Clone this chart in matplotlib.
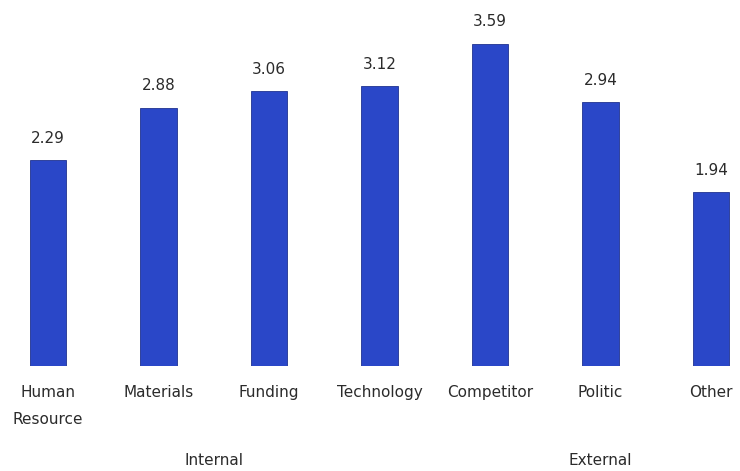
import matplotlib
matplotlib.use("Agg")
from matplotlib import pyplot as plt

categories = ["Human\nResource", "Materials", "Funding", "Technology", "Competitor", "Politic", "Other"]
values = [2.29, 2.88, 3.06, 3.12, 3.59, 2.94, 1.94]
groups = ["Internal", "External"]
group_members = [[0, 1, 2, 3], [4, 5, 6]]

fig = plt.figure(figsize=(7.4, 4.71), dpi=100)
ax = fig.add_axes([0, 0.223, 1, 0.762])

x = list(range(len(categories)))
ax.bar(x, values, width=0.33, color="#2a47c8", edgecolor="#1f3290", linewidth=0.6)

for xi, v in zip(x, values):
	ax.text(xi, v + 0.16, f"{v:.2f}", ha="center", va="bottom", fontsize=11, color="#2b2b2b")

ax.set_xlim(-0.434, 6.262)
ax.set_ylim(0, 4)
ax.set_xticks(x)
ax.set_xticklabels(categories, fontsize=11, color="#2b2b2b", linespacing=2.0, va="top")
ax.tick_params(axis="x", length=0, pad=14)
ax.set_yticks([])
for s in ax.spines.values():
	s.set_visible(False)

# group labels under the category names
for name, members in zip(groups, group_members):
	cx = sum(members) / len(members)
	ax.text(cx, -1.05, name, ha="center", va="center", fontsize=11, color="#2b2b2b")

fig.savefig("out.png", dpi=100)
